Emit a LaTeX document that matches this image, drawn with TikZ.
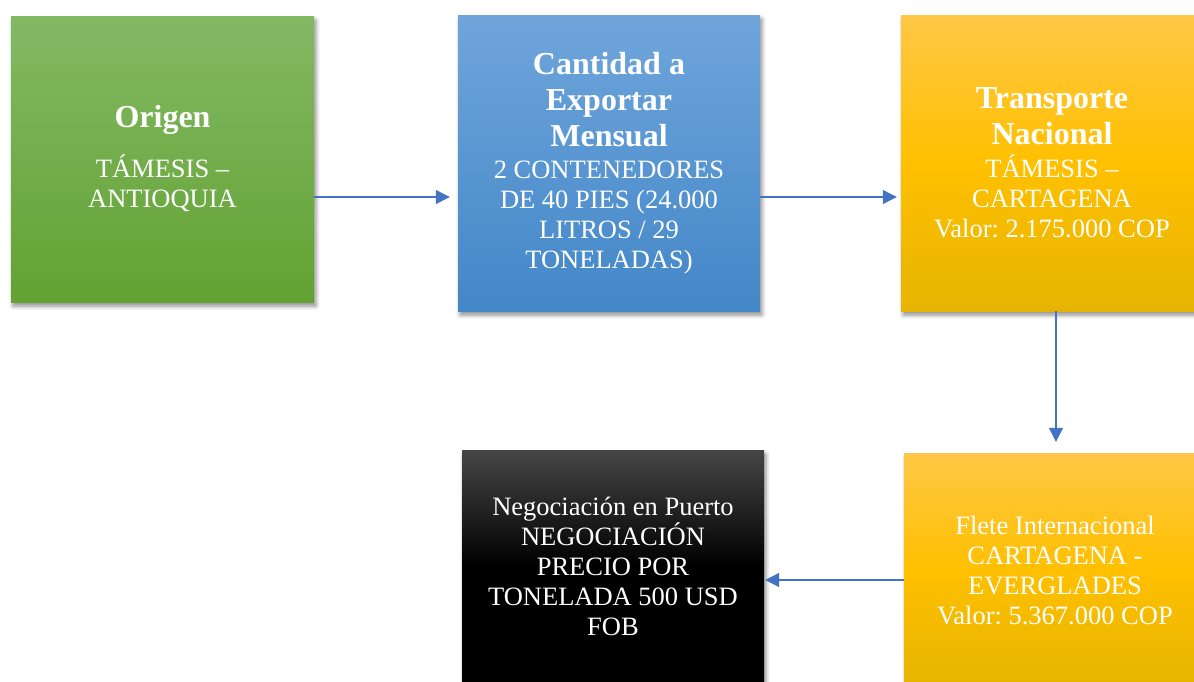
\documentclass[tikz,border=0pt]{standalone}
\usepackage{fontspec}
\setmainfont{Liberation Serif}
\usepackage{xcolor}
\usepackage{tikz}
\usetikzlibrary{
    shapes,
    positioning,
    shadows,
    shadows.blur,
    calc,
    arrows.meta
}
\definecolor{flowblue}{HTML}{4472C4}
\newcommand{\titlefont}{\fontsize{32}{36}\selectfont\bfseries}
\newcommand{\bodyfont}{\fontsize{26.5}{30}\selectfont\frenchspacing}
\tikzset{
  basic/.style = {
      rectangle,
      text=white,
      align=center,
      inner sep=0pt,
      font=\bodyfont,
      blur shadow={shadow xshift=2pt, shadow yshift=-4pt,
                   shadow blur radius=4pt, shadow opacity=45}
  },
  greenbox/.style = {
      basic,
      top color={rgb,255:red,132;green,185;blue,101},
      bottom color={rgb,255:red,98;green,162;blue,50}
  },
  bluebox/.style = {
      basic,
      top color={rgb,255:red,111;green,165;blue,219},
      bottom color={rgb,255:red,67;green,135;blue,200}
  },
  goldbox/.style = {
      basic,
      top color={rgb,255:red,255;green,199;blue,70},
      bottom color={rgb,255:red,230;green,180;blue,0},
      middle color={rgb,255:red,255;green,192;blue,0}
  },
  darkbox/.style = {
      basic,
      top color={rgb,255:red,70;green,70;blue,70},
      bottom color=black,
      middle color=black
  },
  conn/.style = {
      draw=flowblue,
      line width=1.2pt,
      -{Triangle[length=14pt,width=14pt]}
  }
}

\begin{document}
\begin{tikzpicture}[x=1pt, y=-1pt]
    \useasboundingbox (0,0) rectangle (1194,681);
    \clip (0,0) rectangle (1194,681);
    % Nodes
    \node[greenbox, minimum width=303pt, minimum height=286pt] (orig) at (162.5,159)
        {{\titlefont Origen}\\[20pt]T\'AMESIS --\\ANTIOQUIA};
    \node[bluebox, minimum width=302pt, minimum height=296pt] (cant) at (609,163)
        {{\titlefont Cantidad a}\\[6pt]{\titlefont Exportar}\\[6pt]{\titlefont Mensual}\\[2pt]2 CONTENEDORES\\DE 40 PIES (24.000\\LITROS / 29\\TONELADAS)};
    \node[goldbox, minimum width=302pt, minimum height=296pt] (trans) at (1052,163)
        {{\titlefont Transporte}\\[6pt]{\titlefont Nacional}\\[3pt]T\'AMESIS --\\CARTAGENA\\Valor: 2.175.000 COP};
    \node[goldbox, minimum width=302pt, minimum height=234pt] (flete) at (1055,570)
        {Flete Internacional\\CARTAGENA -\\EVERGLADES\\Valor: 5.367.000 COP};
    \node[darkbox, minimum width=302pt, minimum height=232pt] (neg) at (613,566)
        {Negociaci\'on en Puerto\\NEGOCIACI\'ON\\PRECIO POR\\TONELADA 500 USD\\FOB};
    % Edges
    \coordinate (toprow) at (0,197);
    \coordinate (botrow) at (0,580);
    \coordinate (downcol) at (1056,0);
    \path[conn, shorten >=8pt] (orig.east |- toprow) -- (cant.west |- toprow);
    \path[conn, shorten >=4pt] (cant.east |- toprow) -- (trans.west |- toprow);
    \path[conn, shorten >=11pt] (trans.south -| downcol) -- (flete.north -| downcol);
    \path[conn, shorten >=1pt] (flete.west |- botrow) -- (neg.east |- botrow);
\end{tikzpicture}
\end{document}
